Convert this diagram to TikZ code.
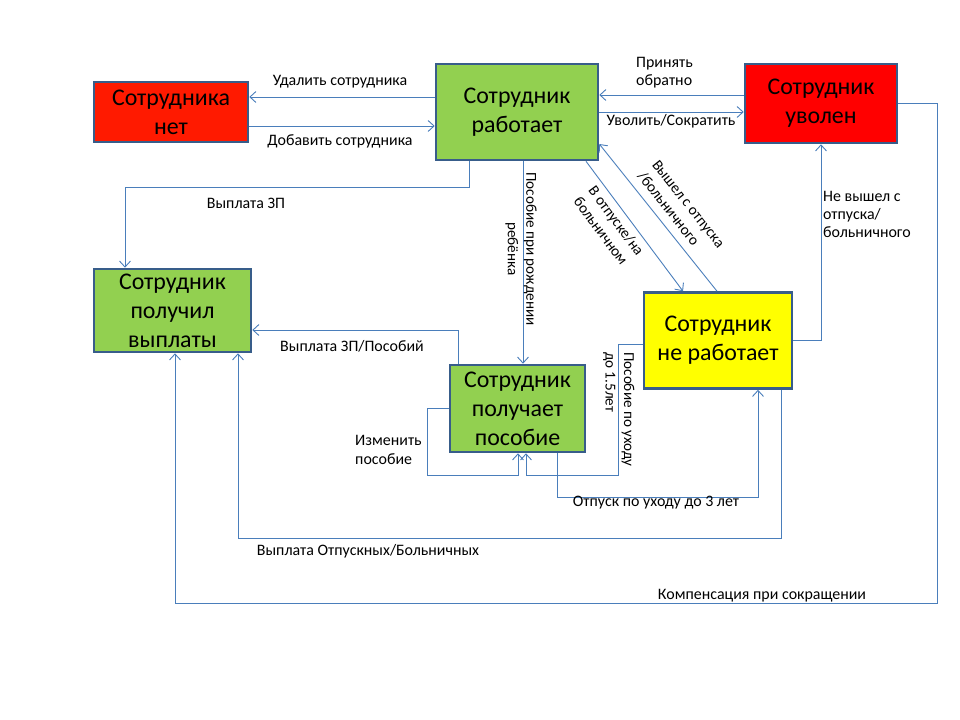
\documentclass[tikz,border=0pt]{standalone}
\usepackage{fontspec}
\setmainfont{Carlito}
\usetikzlibrary{arrows.meta}
\definecolor{bordc}{HTML}{385D8A}
\definecolor{linec}{HTML}{4A7EBB}
\definecolor{redA}{HTML}{FF1A00}
\definecolor{redB}{HTML}{FF0000}
\definecolor{greenA}{HTML}{92D050}
\definecolor{yellowA}{HTML}{FFFF00}
\tikzset{
  statebox/.style={draw=bordc, line width=2.6bp, inner sep=0pt, align=center,
    font=\fontsize{24}{29}\selectfont},
  conn/.style={draw=linec, line width=0.9bp, -{Straight Barb[length=6bp,width=11bp,line width=0.9bp]}},
  lbl/.style={inner sep=0pt, font=\fontsize{16}{18.5}\selectfont},
  rlbl/.style={inner sep=0pt, font=\fontsize{15.2}{18.5}\selectfont},
}
\begin{document}
\begin{tikzpicture}[x=1bp,y=-1bp]
\useasboundingbox (0,0) rectangle (960,720);
% boxes
\node[statebox, fill=redA, minimum width=154bp, minimum height=60bp] (none) at (171,112) {Сотрудника\\нет};
\node[statebox, fill=greenA, minimum width=162bp, minimum height=96bp] (work) at (517,112) {Сотрудник\\работает};
\node[statebox, fill=redB, minimum width=152bp, minimum height=79bp] (fired) at (821,103.5) {Сотрудник\\уволен};
\node[statebox, fill=greenA, minimum width=157bp, minimum height=83bp] (paid) at (172.5,310.5) {Сотрудник\\получил\\выплаты};
\node[statebox, fill=greenA, minimum width=135bp, minimum height=87bp] (benefit) at (517.5,408.5) {Сотрудник\\получает\\пособие};
\node[statebox, fill=yellowA, minimum width=148bp, minimum height=96bp] (off) at (718,340.5) {Сотрудник\\не работает};
% connectors
\draw[conn] (work.west |- 0,97) -- (none.east |- 0,97);
\draw[conn] (none.east |- 0,126) -- (work.west |- 0,126);
\draw[conn] (work.south -| 469,0) -- (469,187) -- (125,187) -- (paid.north -| 125,0);
\draw[conn] (work.south -| 523,0) -- (benefit.north -| 523,0);
\draw[conn] (work.south -| 586,0) -- (off.north -| 683,0);
\draw[conn] (off.north -| 717,0) -- (work.east |- 0,144);
\draw[conn] (fired.west |- 0,95) -- (work.east |- 0,95);
\draw[conn] (work.east |- 0,112) -- (fired.west |- 0,112);
\draw[conn] (off.east |- 0,340) -- (821,340) -- (fired.south -| 821,0);
\draw[conn] (fired.east |- 0,103) -- (937,103) -- (937,603) -- (175,603) -- (paid.south -| 175,0);
\draw[conn] (benefit.north -| 458,0) -- (458,330) -- (paid.east |- 0,330);
\draw[conn] (benefit.west |- 0,408) -- (427,408) -- (427,475) -- (518,475) -- (benefit.south -| 518,0);
\draw[conn] (off.west |- 0,344) -- (618,344) -- (618,475) -- (526,475) -- (benefit.south -| 526,0);
\draw[conn] (benefit.south -| 557,0) -- (557,497) -- (758,497) -- (off.south -| 758,0);
\draw[conn] (off.south -| 781,0) -- (781,538) -- (238,538) -- (paid.south -| 238,0);
% labels
\node[lbl] (l1) at (340,82) {Удалить сотрудника};
\node[lbl] (l2) at (340,141) {Добавить сотрудника};
\node[lbl] (l3) at (246,203) {Выплата ЗП};
\node[rlbl, align=center, rotate=-90] (l4) at (521,249) {Пособие при рождении\\ребёнка};
\node[rlbl, align=left, rotate=-53.5] (l5) at (609,226) {В отпуске/на\\больничном};
\node[rlbl, align=left, rotate=-51.5] (l6) at (681,210) {Вышел с отпуска\\/больничного};
\node[lbl, align=left, anchor=west] (l7) at (636,72.5) {Принять\\обратно};
\node[lbl] (l8) at (671,121) {Уволить/Сократить};
\node[lbl, align=left, anchor=west] (l9) at (823,214.5) {Не вышел с\\отпуска/\\больничного};
\node[lbl] (l10) at (352,346) {Выплата ЗП/Пособий};
\node[lbl, align=left, anchor=west] (l11) at (355,450) {Изменить\\пособие};
\node[rlbl, align=left, rotate=-90, anchor=south west] (l12) at (603,352) {Пособие по уходу\\до 1.5лет};
\node[lbl] (l13) at (656,503) {Отпуск по уходу до 3 лет};
\node[lbl] (l14) at (368,551) {Выплата Отпускных/Больничных};
\node[lbl] (l15) at (762,596) {Компенсация при сокращении};
\end{tikzpicture}
\end{document}
